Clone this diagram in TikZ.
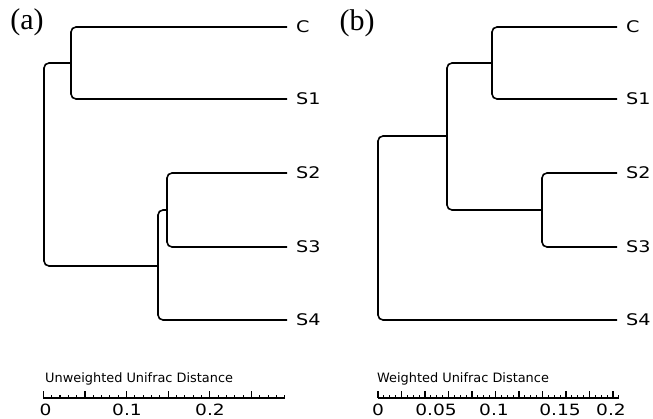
\documentclass[tikz,border=0pt]{standalone}
\usepackage{fontspec}
\newfontfamily\leaffont[FakeStretch=1.2]{DejaVu Sans}
\newfontfamily\axisfont{DejaVu Sans}
\newfontfamily\numfont[FakeStretch=1.2]{DejaVu Sans}
\newfontfamily\panelfont{Liberation Serif}
\tikzset{
branch/.style={line width=1.6pt, rounded corners=5pt},
leaf/.style={anchor=west, inner xsep=9pt, inner ysep=0pt, font=\leaffont\fontsize{16}{16}\selectfont},
axistitle/.style={anchor=base west, inner sep=0pt, font=\axisfont\fontsize{12.9}{12.9}\selectfont},
axisnum/.style={anchor=base, inner sep=0pt, font=\numfont\fontsize{15.5}{15.5}\selectfont},
panel/.style={inner sep=0pt, font=\panelfont\fontsize{30}{30}\selectfont},
scaleline/.style={line width=1.1pt}
}
\begin{document}
\begin{tikzpicture}[x=1pt,y=-1pt]
\useasboundingbox (0,0) rectangle (653,419);
\pgfmathsetmacro\ya{27};
\pgfmathsetmacro\yb{99};
\pgfmathsetmacro\yc{173};
\pgfmathsetmacro\yd{247};
\pgfmathsetmacro\ye{320};
\node[panel] (pa) at (27,22) {(a)};
\node[panel] (pb) at (357,23) {(b)};
\node[leaf] (aC) at (287,\ya) {C};
\node[leaf] (aS1) at (287,\yb) {S1};
\node[leaf] (aS2) at (287,\yc) {S2};
\node[leaf] (aS3) at (287,\yd) {S3};
\node[leaf] (aS4) at (287,\ye) {S4};
\coordinate (a1) at (71,63);
\coordinate (a2) at (167,210);
\coordinate (a3) at (158,266);
\coordinate (a0) at (44,165);
\draw[branch] (aC.west) -| (a1) |- (aS1.west);
\draw[branch] (aS2.west) -| (a2) |- (aS3.west);
\draw[branch] (a2) -| (a3) |- (aS4.west);
\draw[branch] (a1) -| (a0) |- (a3);
\node[leaf] (bC) at (617,\ya) {C};
\node[leaf] (bS1) at (617,\yb) {S1};
\node[leaf] (bS2) at (617,\yc) {S2};
\node[leaf] (bS3) at (617,\yd) {S3};
\node[leaf] (bS4) at (617,\ye) {S4};
\coordinate (b1) at (492,63);
\coordinate (b2) at (542,210);
\coordinate (b3) at (447,136);
\coordinate (b0) at (378,228);
\draw[branch] (bC.west) -| (b1) |- (bS1.west);
\draw[branch] (bS2.west) -| (b2) |- (bS3.west);
\draw[branch] (b1) -| (b3) |- (b2);
\draw[branch] (b3) -| (b0) |- (bS4.west);
\node[axistitle] (ta) at (45,382) {Unweighted Unifrac Distance};
\draw[scaleline] (43.3,398) -- (43.3+29*8.33,398);
\foreach \i in {0,...,29}{
\pgfmathsetmacro\h{ifthenelse(mod(\i,5)==0,7,3.5)}
\draw[scaleline] (43.3+\i*8.33,398) -- ++(0,-\h);
}
\node[axisnum] (na0) at (45.5,415) {0};
\node[axisnum] (na1) at (127,415) {0.1};
\node[axisnum] (na2) at (210,415) {0.2};
\node[axistitle] (tb) at (377,382) {Weighted Unifrac Distance};
\draw[scaleline] (378,398) -- (378+41*5.875,398);
\foreach \i in {0,...,41}{
\pgfmathsetmacro\h{ifthenelse(mod(\i,4)==0,7,3.5)}
\draw[scaleline] (378+\i*5.875,398) -- ++(0,-\h);
}
\node[axisnum] (nb0) at (378,415) {0};
\node[axisnum] (nb1) at (436,415) {0.05};
\node[axisnum] (nb2) at (494,415) {0.1};
\node[axisnum] (nb3) at (560,415) {0.15};
\node[axisnum] (nb4) at (611,415) {0.2};
\end{tikzpicture}
\end{document}
